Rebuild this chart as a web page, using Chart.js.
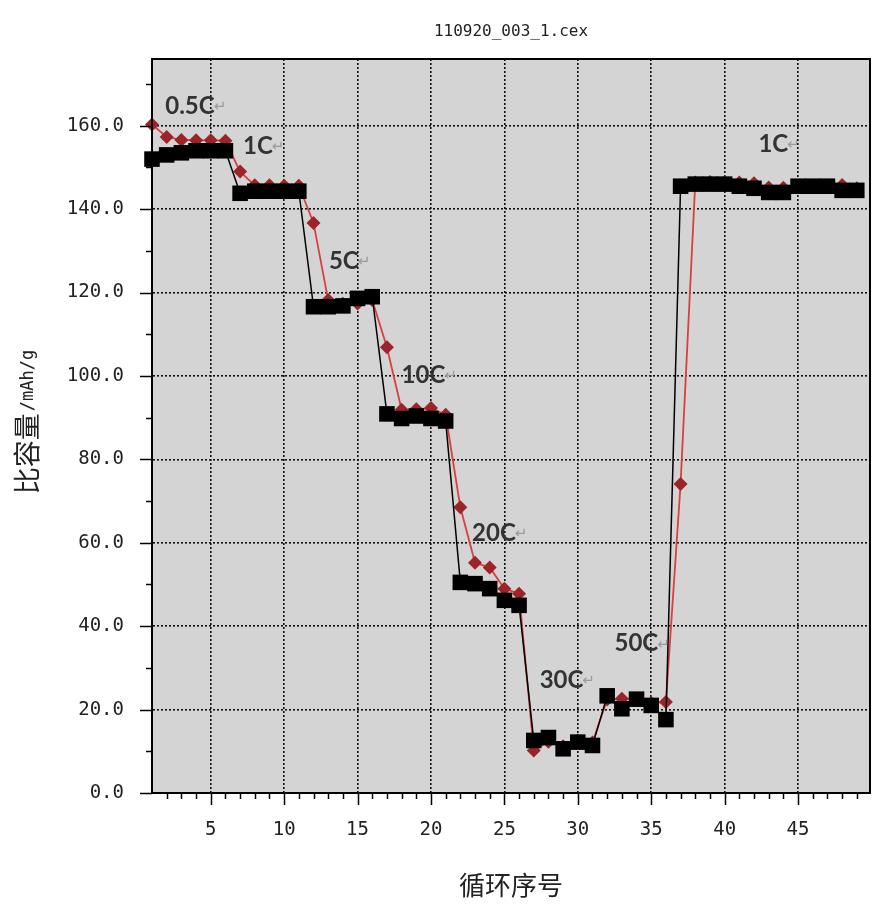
<!DOCTYPE html>
<html>
<head>
<meta charset="utf-8">
<script src="https://cdn.jsdelivr.net/npm/chart.js@4.4.1/dist/chart.umd.min.js"></script>
<style>
    body { margin: 0; background: #fff; }
    canvas { display: block; }
</style>
</head>
<body>
<canvas id="rateChart" width="875" height="909"></canvas>
<script>
const cycles = [1, 2, 3, 4, 5, 6, 7, 8, 9, 10, 11, 12, 13, 14, 15, 16, 17, 18, 19, 20, 21, 22, 23, 24, 25,
    26, 27, 28, 29, 30, 31, 32, 33, 34, 35, 36, 37, 38, 39, 40, 41, 42, 43, 44, 45, 46, 47, 48, 49];
// black squares
const chargeCap = [152, 153, 153.5, 154, 154, 154, 143.8, 144.3, 144.3, 144.3, 144.3, 116.6, 116.6, 116.8, 118.6, 119,
    90.9, 89.8, 90.4, 89.8, 89.2, 50.5, 50.2, 49, 46.2, 45, 12.6, 13.3, 10.6, 12.2, 11.4,
    23.3, 20.2, 22.5, 21, 17.6, 145.5, 146, 146, 146, 145.5, 145, 144, 144, 145.5, 145.5, 145.5, 144.5, 144.5];
// red diamonds
const dischargeCap = [160.3, 157.3, 156.6, 156.5, 156.5, 156.4, 149, 145.7, 145.7, 145.6, 145.6, 136.7, 118.2, 117.3, 117.4, 118.2,
    106.9, 91.9, 92, 92.3, 90.7, 68.5, 55.2, 54.1, 49, 47.8, 10.2, 12.3, 11.2, 12.6, 12.1,
    22.4, 22.6, 22.6, 21.6, 21.8, 74.1, 146.4, 146.5, 146.5, 146.4, 146.2, 145.2, 145.1, 145.6, 145.6, 145.6, 145.8, 145];
const xTickValues = [5, 10, 15, 20, 25, 30, 35, 40, 45];
const yTickValues = [0, 20, 40, 60, 80, 100, 120, 140, 160];
const rateLabels = ['0.5C', '1C', '5C', '10C', '20C', '30C', '50C', '1C'];
const rateLabelX = [1.9, 7.2, 13.05, 18.0, 22.8, 27.4, 32.5, 42.3];
const rateLabelY = [164.7, 155, 127.5, 100.2, 62.2, 27, 35.8, 155.6];

const tickFont = { family: 'DejaVu Sans Mono', size: 19 };

const backdrop = {
    id: 'backdrop',
    beforeDraw(chart) {
        const { ctx, chartArea: a } = chart;
        ctx.save();
        ctx.fillStyle = '#fff';
        ctx.fillRect(0, 0, chart.width, chart.height);
        ctx.fillStyle = '#d4d4d4';
        ctx.fillRect(a.left, a.top, a.right - a.left, a.bottom - a.top);
        ctx.restore();
    },
};

const rateText = {
    id: 'rateText',
    afterDatasetsDraw(chart) {
        const { ctx, scales } = chart;
        ctx.save();
        ctx.textBaseline = 'middle';
        ctx.textAlign = 'left';
        rateLabels.forEach((t, i) => {
            const px = scales.x.getPixelForValue(rateLabelX[i]);
            const py = scales.y.getPixelForValue(rateLabelY[i]);
            ctx.font = 'bold 24px Lato';
            ctx.fillStyle = '#333';
            ctx.fillText(t, px, py);
            const w = ctx.measureText(t).width;
            ctx.font = '15px "DejaVu Sans"';
            ctx.fillStyle = '#9a9a9a';
            ctx.fillText('\u21B5', px + w - 1, py + 1);
        });
        ctx.restore();
    },
};

const frame = {
    id: 'frame',
    afterDraw(chart) {
        const { ctx, chartArea: a, scales } = chart;
        ctx.save();
        ctx.strokeStyle = '#000';
        ctx.lineWidth = 2;
        ctx.strokeRect(a.left, a.top, a.right - a.left, a.bottom - a.top);
        ctx.lineWidth = 1.5;
        ctx.beginPath();
        // y ticks, major every 20, minor every 10
        for (let v = 0; v <= 170; v += 10) {
            const py = Math.round(scales.y.getPixelForValue(v)) + 0.5;
            const len = v % 20 === 0 ? 12 : 6;
            ctx.moveTo(a.left - len, py);
            ctx.lineTo(a.left, py);
        }
        // x ticks, major every 5, minor every 1
        for (let v = 2; v <= 49; v++) {
            const px = Math.round(scales.x.getPixelForValue(v)) + 0.5;
            const len = v % 5 === 0 ? 12 : 6;
            ctx.moveTo(px, a.bottom);
            ctx.lineTo(px, a.bottom + len);
        }
        ctx.stroke();

        // title
        ctx.fillStyle = '#222';
        ctx.textAlign = 'center';
        ctx.textBaseline = 'middle';
        ctx.font = '16px "DejaVu Sans Mono"';
        ctx.fillText('110920_003_1.cex', (a.left + a.right) / 2, 32);

        // x axis title
        ctx.font = '26px "Noto Sans CJK SC"';
        ctx.fillText('循环序号', (a.left + a.right) / 2, 885);

        // y axis title, rotated
        ctx.translate(27, 423);
        ctx.rotate(-Math.PI / 2);
        ctx.textAlign = 'left';
        ctx.font = '27px "Noto Sans CJK SC"';
        const big = '比容量';
        const small = '/mAh/g';
        const bw = ctx.measureText(big).width;
        ctx.font = '17px "DejaVu Sans Mono"';
        const sw = ctx.measureText(small).width;
        const start = -(bw + sw) / 2;
        ctx.font = '27px "Noto Sans CJK SC"';
        ctx.fillText(big, start, 0);
        ctx.font = '17px "DejaVu Sans Mono"';
        ctx.fillText(small, start + bw + 2, 2);
        ctx.restore();
    },
};

new Chart('rateChart', {
    type: 'line',
    data: {
        datasets: [
            {
                label: 'charge',
                data: cycles.map((c, i) => ({ x: c, y: chargeCap[i] })),
                borderColor: '#000',
                borderWidth: 1.5,
                pointStyle: 'rect',
                pointRadius: 11,
                pointBackgroundColor: '#000',
                pointBorderWidth: 0,
                tension: 0,
                clip: false,
            },
            {
                label: 'discharge',
                data: cycles.map((c, i) => ({ x: c, y: dischargeCap[i] })),
                borderColor: '#d8403f',
                borderWidth: 1.8,
                pointStyle: 'rectRot',
                pointRadius: 7,
                pointBackgroundColor: '#9c2428',
                pointBorderWidth: 0,
                tension: 0,
                clip: false,
            },
        ],
    },
    options: {
        responsive: false,
        animation: false,
        layout: { autoPadding: false, padding: { left: 0, top: 59, right: 5, bottom: 0 } },
        plugins: {
            legend: { display: false },
            tooltip: { enabled: false },
            title: { display: false },
        },
        scales: {
            x: {
                type: 'linear',
                min: 1,
                max: 49.9,
                afterBuildTicks: (s) => {
                    s.ticks = xTickValues.map((v) => ({ value: v }));
                },
                afterFit: (s) => {
                    s.height = 909 - 793;
                },
                ticks: {
                    font: tickFont,
                    color: '#222',
                    padding: 26,
                    maxRotation: 0,
                    autoSkip: false,
                },
                grid: { color: '#111', lineWidth: 1.6, drawTicks: false },
                border: { display: true, color: '#000', width: 2, dash: [2, 2] },
            },
            y: {
                min: 0,
                max: 176,
                afterBuildTicks: (s) => {
                    s.ticks = yTickValues.map((v) => ({ value: v }));
                },
                afterFit: (s) => {
                    s.width = 152;
                },
                ticks: {
                    font: tickFont,
                    color: '#222',
                    padding: 28,
                    callback: (v) => v.toFixed(1),
                },
                grid: {
                    color: (c) => (c.tick && c.tick.value === 0 ? 'rgba(0,0,0,0)' : '#111'),
                    lineWidth: 1.6,
                    drawTicks: false,
                },
                border: { display: true, color: '#000', width: 2, dash: [2, 2] },
            },
        },
    },
    plugins: [backdrop, rateText, frame],
});
</script>
</body>
</html>
